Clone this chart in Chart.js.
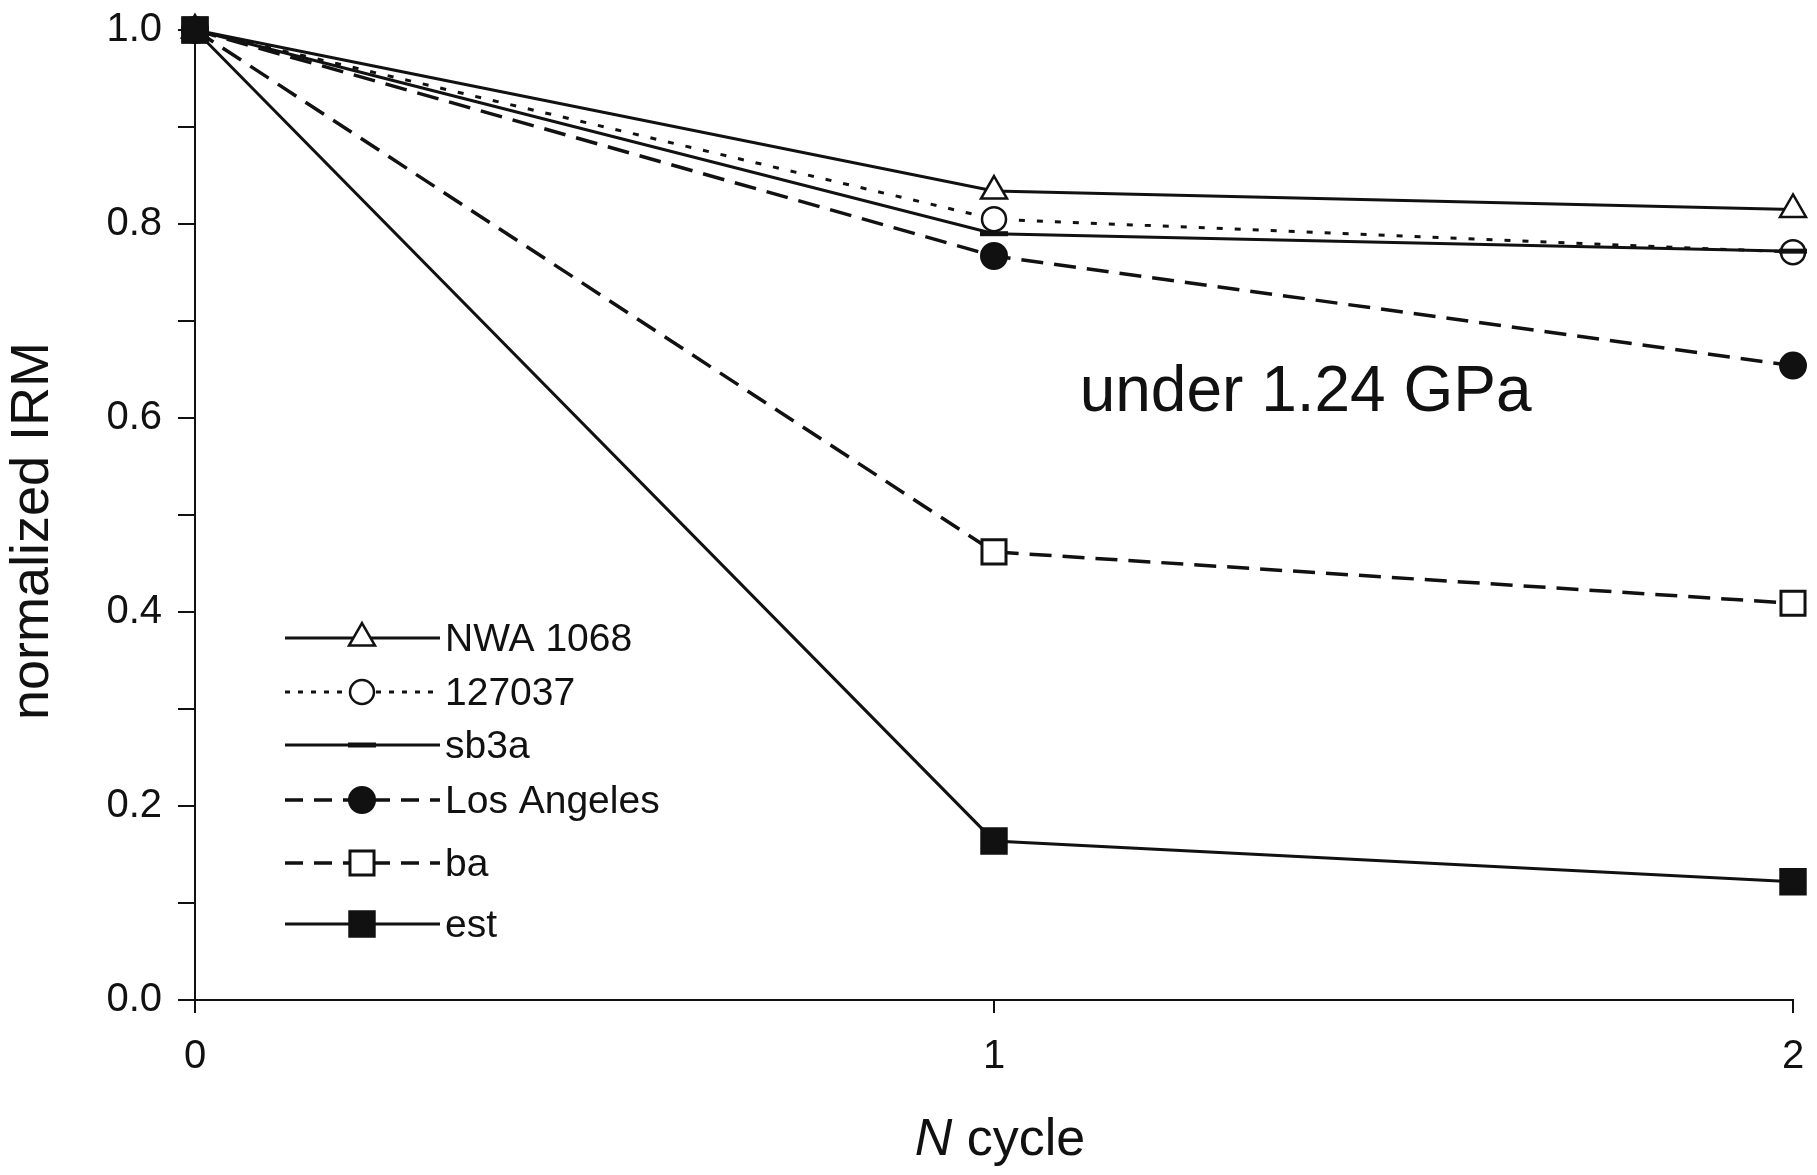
<!DOCTYPE html>
<html>
<head>
<meta charset="utf-8">
<script src="https://cdn.jsdelivr.net/npm/chart.js@4.4.0/dist/chart.umd.min.js"></script>
<style>
  html, body { margin: 0; padding: 0; background: #fff; }
</style>
</head>
<body>
<canvas id="irmChart" width="1817" height="1175"></canvas>
<script>
// values
const cycles = [0, 1, 2];
const nwa1068 = [1.0, 0.834, 0.815];
const s127037 = [1.0, 0.805, 0.771];
const sb3a = [1.0, 0.790, 0.772];
const losAngeles = [1.0, 0.767, 0.654];
const ba = [1.0, 0.462, 0.409];
const est = [1.0, 0.164, 0.122];
const yTickLabels = [0.0, 0.2, 0.4, 0.6, 0.8, 1.0];
const xTickLabels = ["0", "1", "2"];

const FONT = "'Liberation Sans', Arial, sans-serif";
const INK = "#111";

const toPoints = (vals) => vals.map((v, i) => ({ x: cycles[i], y: v }));

const series = [
  { label: "NWA 1068", data: nwa1068, lw: 3, dash: [], legendDash: [], style: "triangle", r: 15, fill: "#fff", bw: 2.5 },
  { label: "127037", data: s127037, lw: 3, dash: [6, 12], legendDash: [5, 8], style: "circle", r: 12, fill: "#fff", bw: 2.5 },
  { label: "sb3a", data: sb3a, lw: 3, dash: [], legendDash: [], style: "line", r: 14, fill: INK, bw: 5 },
  { label: "Los Angeles", data: losAngeles, lw: 3.5, dash: [22, 11], legendDash: [18, 11], style: "circle", r: 13, fill: INK, bw: 2 },
  { label: "ba", data: ba, lw: 3.5, dash: [22, 11], legendDash: [18, 11], style: "rect", r: 17, fill: "#fff", bw: 3 },
  { label: "est", data: est, lw: 3, dash: [], legendDash: [], style: "rect", r: 18, fill: INK, bw: 2 },
];

const legendRows = [638, 692, 745, 800, 863, 924];

const extras = {
  id: "extras",
  afterDraw(chart) {
    const ctx = chart.ctx;
    const xs = chart.scales.x;
    const ys = chart.scales.y;
    ctx.save();
    ctx.fillStyle = INK;

    // y title
    ctx.save();
    ctx.translate(33, 531);
    ctx.rotate(-Math.PI / 2);
    ctx.font = "54px " + FONT;
    ctx.textAlign = "center";
    ctx.textBaseline = "middle";
    ctx.fillText("normalized IRM", 0, 0);
    ctx.restore();

    // x title, italic N
    ctx.textBaseline = "middle";
    ctx.textAlign = "left";
    ctx.font = "italic 52px " + FONT;
    const nW = ctx.measureText("N ").width;
    ctx.font = "52px " + FONT;
    const cW = ctx.measureText("cycle").width;
    const x0 = 1000 - (nW + cW) / 2;
    ctx.font = "italic 52px " + FONT;
    ctx.fillText("N", x0, 1141);
    ctx.font = "52px " + FONT;
    ctx.fillText("cycle", x0 + nW, 1141);

    // annotation
    ctx.font = "64px " + FONT;
    ctx.textAlign = "center";
    ctx.fillText("under 1.24 GPa", xs.getPixelForValue(1.39), ys.getPixelForValue(0.625));

    // legend
    ctx.textAlign = "left";
    ctx.font = "39px " + FONT;
    series.forEach((s, i) => {
      const y = legendRows[i];
      ctx.save();
      ctx.strokeStyle = INK;
      ctx.lineWidth = s.lw;
      ctx.setLineDash(s.legendDash);
      ctx.beginPath();
      ctx.moveTo(285, y);
      ctx.lineTo(440, y);
      ctx.stroke();
      ctx.setLineDash([]);
      ctx.fillStyle = s.fill;
      ctx.lineWidth = s.bw;
      Chart.helpers.drawPoint(ctx, { pointStyle: s.style, radius: s.r, rotation: 0, borderWidth: s.bw }, 362, y);
      ctx.restore();
      ctx.fillText(s.label, 445, y + 2);
    });
    ctx.restore();
  },
};

new Chart(document.getElementById("irmChart"), {
  type: "line",
  data: {
    datasets: series.map((s, i) => ({
      label: s.label,
      data: toPoints(s.data),
      borderColor: INK,
      borderWidth: s.lw,
      borderDash: s.dash,
      pointStyle: s.style,
      pointRadius: s.r,
      pointBackgroundColor: s.fill,
      pointBorderColor: INK,
      pointBorderWidth: s.bw,
      tension: 0,
      clip: false,
      order: series.length - i,
    })),
  },
  options: {
    responsive: false,
    animation: false,
    layout: { padding: { top: 30, right: 24, left: 0, bottom: 0 } },
    plugins: { legend: { display: false }, tooltip: { enabled: false } },
    scales: {
      x: {
        type: "linear",
        min: 0,
        max: 2,
        afterFit: (s) => { s.height = 175; s.paddingLeft = 0; s.paddingRight = 0; },
        ticks: {
          stepSize: 1,
          padding: 20,
          color: INK,
          font: { family: FONT, size: 40 },
          callback: (v) => xTickLabels[v] ?? "",
        },
        grid: { drawOnChartArea: false, tickLength: 13, color: INK, lineWidth: 2 },
        border: { color: INK, width: 2 },
      },
      y: {
        min: 0,
        max: 1.0,
        afterFit: (s) => { s.width = 195; s.paddingTop = 0; s.paddingBottom = 0; },
        ticks: {
          stepSize: 0.1,
          padding: 16,
          color: INK,
          font: { family: FONT, size: 40 },
          callback: (v) => (yTickLabels.some((t) => Math.abs(t - v) < 1e-6) ? v.toFixed(1) : ""),
        },
        grid: { drawOnChartArea: false, tickLength: 17, color: INK, lineWidth: 2 },
        border: { color: INK, width: 2 },
      },
    },
  },
  plugins: [extras],
});
</script>
</body>
</html>
